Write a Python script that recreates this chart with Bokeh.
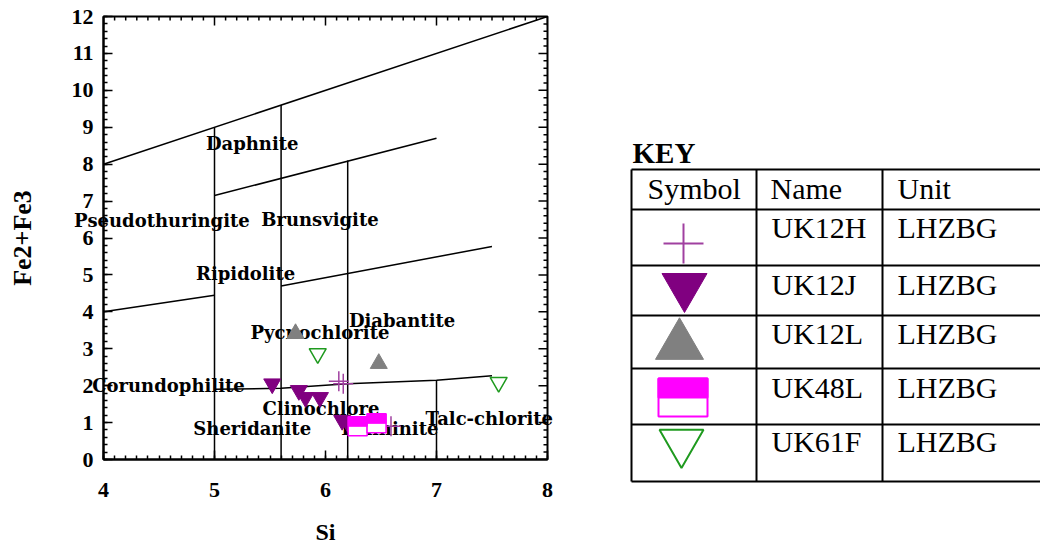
from bokeh.plotting import figure
from bokeh.models import Range1d, FixedTicker, ColumnDataSource, LabelSet
from bokeh.layouts import row
from bokeh.core.properties import value
from bokeh.embed import file_html
from bokeh.resources import INLINE
import numpy as np
try:
    from bokeh.models import HTMLLabelSet as EdgeLabelSet
except Exception:
    EdgeLabelSet = LabelSet

# ---------------- data ----------------
si_12H = [6.12, 6.16, 6.59]
fe_12H = [2.12, 2.05, 0.90]
si_12J = [5.52, 5.76, 5.82, 5.95, 6.15, 6.20]
fe_12J = [2.05, 1.87, 1.68, 1.68, 1.06, 1.00]
si_12L = [5.73, 6.48]
fe_12L = [3.41, 2.60]
si_48L = [6.29, 6.46]
fe_48L = [0.90, 0.98]
si_61F = [5.93, 7.56]
fe_61F = [2.87, 2.09]

# field boundaries (Hey chlorite diagram)
bnd_si = [[4, 8], [5, 7], [4, 5], [5.6, 7.5], [5, 5.6, 6.2, 7, 7.5],
          [5, 5], [5.6, 5.6], [6.2, 6.2], [7, 7]]
bnd_fe = [[8, 12], [7.15, 8.7], [4.0, 4.45], [4.7, 5.77], [1.9, 1.93, 2.05, 2.15, 2.27],
          [0, 9], [0, 9.6], [0, 8.1], [0, 2.15]]

# field names inside the frame
field_names = ["Daphnite", "Brunsvigite", "Ripidolite", "Diabantite",
               "Pycnochlorite", "Clinochlore", "Sheridanite", "Penninite"]
field_si = [5.34, 5.95, 5.28, 6.69, 5.95, 5.96, 5.34, 6.58]
field_fe = [8.56, 6.50, 5.04, 3.77, 3.44, 1.38, 0.84, 0.84]
# field names crossing the frame edge
edge_names = ["Pseudothuringite", "Corundophilite", "Talc-chlorite"]
edge_si = [4.53, 4.59, 7.48]
edge_fe = [6.47, 2.00, 1.11]

x_ticks = [4, 5, 6, 7, 8]
y_ticks = list(range(0, 13))

key_names = ["UK12H", "UK12J", "UK12L", "UK48L", "UK61F"]
key_units = ["LHZBG", "LHZBG", "LHZBG", "LHZBG", "LHZBG"]
key_header = ["Symbol", "Name", "Unit"]

# ---------------- styles ----------------
C_PLUS = "#a040a0"
C_J = "#800080"
C_L = "#808080"
C_M = "#ff00ff"
C_G = "#1f9a1f"
SERIF = "Liberation Serif"

BL, BR, BT, BB = 103, 53, 16, 94
FW, FH = 444, 443
PW, PH = BL + FW + BR, BT + FH + BB
p = figure(width=PW, height=PH, x_range=Range1d(4, 8), y_range=Range1d(0, 12),
           output_backend="svg", toolbar_location=None, frame_align=False,
           min_border_left=BL, min_border_top=BT, min_border_right=BR, min_border_bottom=BB)
p.xgrid.visible = False
p.ygrid.visible = False
p.outline_line_color = "black"
p.outline_line_width = 2
p.background_fill_color = "white"
p.border_fill_color = "white"

minor_x = [round(v, 2) for v in np.arange(4, 8.001, 0.1)]
minor_y = [round(v, 2) for v in np.arange(0, 12.001, 0.2)]

p.xaxis.ticker = FixedTicker(ticks=x_ticks, minor_ticks=minor_x)
p.yaxis.ticker = FixedTicker(ticks=y_ticks, minor_ticks=minor_y)
for ax in p.xaxis + p.yaxis:
    ax.axis_line_width = 2
    ax.major_tick_in = 9
    ax.major_tick_out = 0
    ax.minor_tick_in = 4
    ax.minor_tick_out = 0
    ax.major_tick_line_width = 1.5
    ax.minor_tick_line_width = 1.5
    ax.major_label_text_font = SERIF
    ax.major_label_text_font_style = "bold"
    ax.major_label_text_font_size = "22px"
    ax.major_label_text_color = "black"
    ax.axis_label_text_font = SERIF
    ax.axis_label_text_font_style = "bold"
    ax.axis_label_text_color = "black"

p.xaxis.axis_label = "Si"
p.yaxis.axis_label = "Fe2+Fe3"
p.xaxis.axis_label_text_font_size = "24px"
p.yaxis.axis_label_text_font_size = "26px"
p.xaxis.major_label_standoff = 23
p.xaxis.axis_label_standoff = 19
p.yaxis.major_label_standoff = 10
p.yaxis.axis_label_standoff = 32

# mirror ticks on top and right (inward)
ux = FW / 4.0   # px per Si unit
uy = FH / 12.0  # px per Fe unit
top_x = minor_x
top_len = [9 / uy if any(abs(t - m) < 1e-9 for m in x_ticks) else 4 / uy for t in top_x]
p.segment(x0=top_x, x1=top_x, y0=[12] * len(top_x), y1=[12 - l for l in top_len],
          line_color="black", line_width=1.5)
right_y = minor_y
right_len = [9 / ux if any(abs(t - m) < 1e-9 for m in y_ticks) else 4 / ux for t in right_y]
p.segment(x0=[8] * len(right_y), x1=[8 - l for l in right_len], y0=right_y, y1=right_y,
          line_color="black", line_width=1.5)

# boundaries
p.multi_line(xs=bnd_si, ys=bnd_fe, line_color="black", line_width=1.5)

# field labels
lab_kw = dict(text_font=value("DejaVu Serif"), text_font_style="bold", text_font_size="18px",
              text_align="center", text_baseline="middle", text_color="black")
p.add_layout(LabelSet(x="x", y="y", text="t", level="underlay",
                      source=ColumnDataSource(dict(x=field_si, y=field_fe, t=field_names)),
                      **lab_kw))
p.add_layout(EdgeLabelSet(x="x", y="y", text="t",
                          source=ColumnDataSource(dict(x=edge_si, y=edge_fe, t=edge_names)),
                          **lab_kw))

# data points
p.scatter(si_12J, fe_12J, marker="inverted_triangle", size=17, fill_color=C_J, line_color=C_J)
p.scatter(si_12L, fe_12L, marker="triangle", size=17, fill_color=C_L, line_color=C_L)
p.scatter(si_61F, fe_61F, marker="inverted_triangle", size=17, fill_color=None,
          line_color=C_G, line_width=1.5)
p.scatter(si_12H, fe_12H, marker="cross", size=20, line_color=C_PLUS, line_width=1.5)
SQ = 19
p.scatter(si_48L, fe_48L, marker="square", size=SQ, fill_color="white", line_color=C_M, line_width=1.5)
dy = (SQ / 4) / uy
p.rect(x=si_48L, y=[v + dy for v in fe_48L], width=SQ, height=SQ / 2,
       width_units="screen", height_units="screen", fill_color=C_M, line_color=C_M)

# ---------------- key table (coordinates = page pixels) ----------------
X0 = PW
X1 = 1040
k = figure(width=X1 - X0, height=PH, x_range=Range1d(X0, X1), y_range=Range1d(PH, 0),
           output_backend="svg", toolbar_location=None, frame_align=False,
           min_border_left=0, min_border_right=0, min_border_top=0, min_border_bottom=0)
k.axis.visible = False
k.xgrid.visible = False
k.ygrid.visible = False
k.outline_line_color = None
k.background_fill_color = "white"
k.border_fill_color = "white"

row_edges = [169, 209, 265, 315, 368, 424, 481]
col_edges = [631, 756, 882]
k.segment(x0=[col_edges[0]] * len(row_edges), x1=[X1 + 5] * len(row_edges),
          y0=row_edges, y1=row_edges, line_color="black", line_width=2)
k.segment(x0=col_edges, x1=col_edges, y0=[row_edges[0]] * 3, y1=[row_edges[-1]] * 3,
          line_color="black", line_width=2)

k.text(x=[632], y=[152], text=["KEY"], text_font=value(SERIF), text_font_style="bold",
       text_font_size="29px", text_baseline="middle", text_color="black")
k.text(x=[647, 770, 897], y=[187.5] * 3, text=key_header, text_font=value(SERIF),
       text_font_size="30px", text_baseline="middle", text_color="black")
mids = [226.5, 283.5, 333, 387, 441]
k.text(x=[771] * 5, y=mids, text=key_names, text_font=value(SERIF),
       text_font_size="30px", text_baseline="middle", text_color="black")
k.text(x=[897] * 5, y=mids, text=key_units, text_font=value(SERIF),
       text_font_size="30px", text_baseline="middle", text_color="black")

# key symbols
k.scatter([683], [243], marker="cross", size=40, line_color=C_PLUS, line_width=2)
k.scatter([684], [286], marker="inverted_triangle", size=45, fill_color=C_J, line_color=C_J)
k.scatter([679], [345], marker="triangle", size=48, fill_color=C_L, line_color=C_L)
k.quad(left=[658], right=[707], top=[378], bottom=[416], fill_color="white",
       line_color=C_M, line_width=2)
k.quad(left=[658], right=[707], top=[378], bottom=[397], fill_color=C_M,
       line_color=C_M, line_width=2)
k.scatter([681], [442], marker="inverted_triangle", size=44, fill_color=None,
          line_color=C_G, line_width=2)

layout = row(p, k)
open("out.html", "w").write(file_html(layout, INLINE))
